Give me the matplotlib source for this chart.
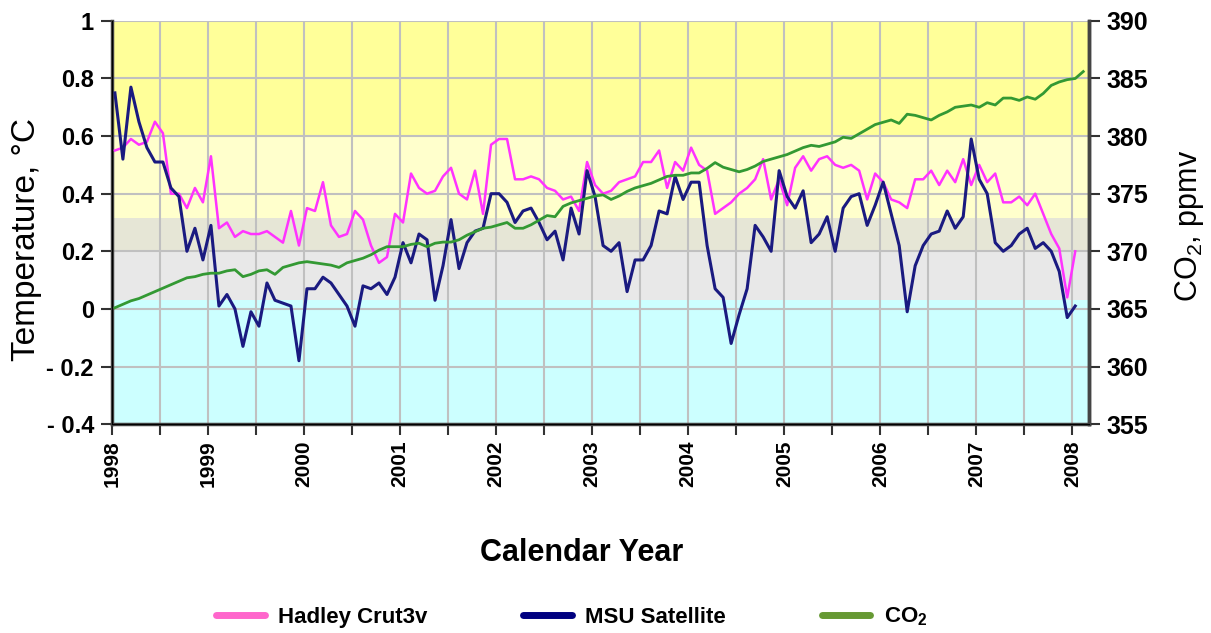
import numpy as np
import matplotlib
matplotlib.use("Agg")
import matplotlib.pyplot as plt
from matplotlib.lines import Line2D

plt.rcParams['font.family'] = ['Liberation Sans', 'DejaVu Sans']
plt.rcParams['mathtext.default'] = 'regular'

# monthly values, Jan 1998 onwards
hadley = [0.55, 0.56, 0.59, 0.57, 0.58, 0.65, 0.61, 0.40, 0.40, 0.35,
          0.42, 0.37, 0.53, 0.28, 0.30, 0.25, 0.27, 0.26, 0.26, 0.27,
          0.25, 0.23, 0.34, 0.22, 0.35, 0.34, 0.44, 0.29, 0.25, 0.26,
          0.34, 0.31, 0.22, 0.16, 0.18, 0.33, 0.30, 0.47, 0.42, 0.40,
          0.41, 0.46, 0.49, 0.40, 0.38, 0.48, 0.33, 0.57, 0.59, 0.59,
          0.45, 0.45, 0.46, 0.45, 0.42, 0.41, 0.38, 0.39, 0.34, 0.51,
          0.43, 0.40, 0.41, 0.44, 0.45, 0.46, 0.51, 0.51, 0.55, 0.42,
          0.51, 0.48, 0.56, 0.50, 0.48, 0.33, 0.35, 0.37, 0.40, 0.42,
          0.45, 0.52, 0.38, 0.45, 0.36, 0.49, 0.53, 0.48, 0.52, 0.53,
          0.50, 0.49, 0.50, 0.48, 0.38, 0.47, 0.44, 0.38, 0.37, 0.35,
          0.45, 0.45, 0.48, 0.43, 0.48, 0.44, 0.52, 0.43, 0.50, 0.44,
          0.47, 0.37, 0.37, 0.39, 0.36, 0.40, 0.33, 0.26, 0.21, 0.04,
          0.20]

msu = [0.75, 0.52, 0.77, 0.65, 0.56, 0.51, 0.51, 0.42, 0.39, 0.20,
       0.28, 0.17, 0.29, 0.01, 0.05, 0.00, -0.13, -0.01, -0.06, 0.09,
       0.03, 0.02, 0.01, -0.18, 0.07, 0.07, 0.11, 0.09, 0.05, 0.01,
       -0.06, 0.08, 0.07, 0.09, 0.05, 0.11, 0.23, 0.16, 0.26, 0.24,
       0.03, 0.15, 0.31, 0.14, 0.23, 0.27, 0.28, 0.40, 0.40, 0.37,
       0.30, 0.34, 0.35, 0.30, 0.24, 0.27, 0.17, 0.35, 0.26, 0.48,
       0.39, 0.22, 0.20, 0.23, 0.06, 0.17, 0.17, 0.22, 0.34, 0.33,
       0.46, 0.38, 0.44, 0.44, 0.22, 0.07, 0.04, -0.12, -0.02, 0.07,
       0.29, 0.25, 0.20, 0.48, 0.39, 0.35, 0.41, 0.23, 0.26, 0.32,
       0.20, 0.35, 0.39, 0.40, 0.29, 0.36, 0.44, 0.33, 0.22, -0.01,
       0.15, 0.22, 0.26, 0.27, 0.34, 0.28, 0.32, 0.59, 0.45, 0.40,
       0.23, 0.20, 0.22, 0.26, 0.28, 0.21, 0.23, 0.20, 0.13, -0.03,
       0.01]

co2 = [365.1, 365.4, 365.7, 365.9, 366.2, 366.5, 366.8, 367.1, 367.4, 367.7,
       367.8, 368.0, 368.1, 368.1, 368.3, 368.4, 367.8, 368.0, 368.3, 368.4,
       368.0, 368.6, 368.8, 369.0, 369.1, 369.0, 368.9, 368.8, 368.6, 369.0,
       369.2, 369.4, 369.7, 370.1, 370.4, 370.4, 370.4, 370.6, 370.7, 370.4,
       370.7, 370.8, 370.8, 371.0, 371.4, 371.7, 372.0, 372.1, 372.3, 372.5,
       372.0, 372.0, 372.3, 372.7, 373.1, 373.0, 373.9, 374.2, 374.4, 374.6,
       374.8, 374.9, 374.5, 374.8, 375.2, 375.5, 375.7, 375.9, 376.2, 376.5,
       376.6, 376.6, 376.8, 376.8, 377.2, 377.7, 377.3, 377.1, 376.9, 377.1,
       377.4, 377.8, 378.0, 378.2, 378.4, 378.7, 379.0, 379.2, 379.1, 379.3,
       379.5, 379.9, 379.8, 380.2, 380.6, 381.0, 381.2, 381.4, 381.1, 381.9,
       381.8, 381.6, 381.4, 381.8, 382.1, 382.5, 382.6, 382.7, 382.5, 382.9,
       382.7, 383.3, 383.3, 383.1, 383.4, 383.2, 383.7, 384.4, 384.7, 384.9,
       385.0, 385.6]

years = list(range(1998, 2009))
temp_ticks = [-0.4, -0.2, 0, 0.2, 0.4, 0.6, 0.8, 1]
temp_labels = ['- 0.4', '- 0.2', '0', '0.2', '0.4', '0.6', '0.8', '1']
co2_ticks = [355, 360, 365, 370, 375, 380, 385, 390]

t_temp = 1998.03 + np.arange(len(msu)) / 12
t_co2 = 1998.03 + np.arange(len(co2)) / 12

fig = plt.figure(figsize=(12.11, 6.33), dpi=100)
ax = fig.add_axes([0.0925, 0.330, 0.8065, 0.637])

# background bands
ax.axhspan(0.6, 1.0, color='#FFFF99', zorder=0, lw=0)
ax.axhspan(0.315, 0.6, color='#FFFFCC', zorder=0, lw=0)
ax.axhspan(0.2, 0.315, color='#E6E6D6', zorder=0, lw=0)
ax.axhspan(0.03, 0.2, color='#E8E8E8', zorder=0, lw=0)
ax.axhspan(-0.4, 0.03, color='#CCFFFF', zorder=0, lw=0)

ax.set_xlim(1998, 2008.17)
ax.set_ylim(-0.4, 1.0)
ax.set_xticks(years)
ax.set_xticks([y + 0.5 for y in years[:-1]], minor=True)
ax.set_xticklabels([str(y) for y in years], rotation=90, fontsize=15, fontweight='bold')
ax.set_yticks(temp_ticks)
ax.set_yticklabels(temp_labels, fontsize=17, fontweight='bold')
ax.grid(True, which='both', color='#C0C0C0', lw=1.5, zorder=1)
ax.set_axisbelow(True)
ax.tick_params(which='both', direction='out', length=8, width=1.5, color='#333333')
ax.tick_params(axis='x', pad=4)
ax.tick_params(axis='y', pad=5)
ax.spines['top'].set_visible(False)
for s in ['left', 'bottom', 'right']:
    ax.spines[s].set_color('#444444')
    ax.spines[s].set_linewidth(2.5)

ax.plot(t_temp, hadley, color='#FF33FF', lw=1.8, zorder=3)
ax.plot(t_temp, msu, color='#1A1A80', lw=2.2, zorder=4)

ax.set_ylabel('Temperature, °C', fontsize=24, va='center')
ax.yaxis.set_label_coords(-0.088, 0.457)
ax.set_xlabel('Calendar Year', fontsize=22, fontweight='bold', va='center')
ax.xaxis.set_label_coords(0.481, -0.32)

ax2 = ax.twinx()
ax2.set_ylim(355, 390)
ax2.set_yticks(co2_ticks)
ax2.set_yticklabels([str(v) for v in co2_ticks], fontsize=18, fontweight='bold')
ax2.tick_params(direction='out', length=8, width=1.5, color='#333333', pad=5)
ax2.spines['top'].set_visible(False)
ax2.spines['right'].set_color('#444444')
ax2.spines['right'].set_linewidth(2.5)
ax2.plot(t_co2, co2, color='#339933', lw=2.0, zorder=3)
ax2.set_ylabel('CO$_2$, ppmv', fontsize=22, va='center')
ax2.yaxis.set_label_coords(1.103, 0.491)

handles = [Line2D([], [], color='#FF66CC', lw=5, solid_capstyle='round'),
           Line2D([], [], color='#000080', lw=5, solid_capstyle='round'),
           Line2D([], [], color='#669933', lw=5, solid_capstyle='round')]
fig.legend(handles, ['Hadley Crut3v', 'MSU Satellite', 'CO$_2$'],
           loc='center', bbox_to_anchor=(0.472, 0.025), ncol=3, frameon=False,
           prop={'size': 16, 'weight': 'bold'}, handlelength=2.2,
           columnspacing=4.3, handletextpad=0.6)

fig.savefig('out.png', dpi=100)
